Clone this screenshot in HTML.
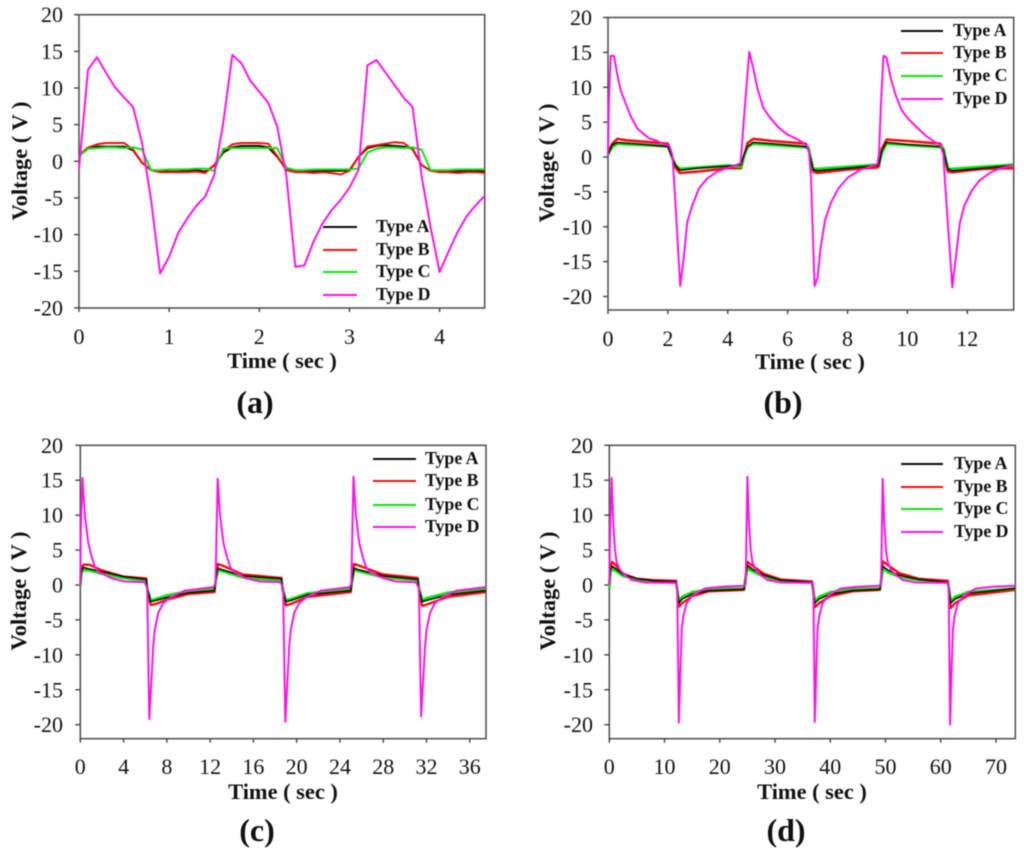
<!DOCTYPE html>
<html lang="en">
<head>
<meta charset="utf-8">
<title>Voltage versus time for four device types</title>
<style>
  html, body { margin: 0; padding: 0; background: #fff; }
  #figure { display: block; width: 1024px; height: 856px; filter: blur(0.5px); }
  text { font-family: "Liberation Serif", serif; fill: #111; }
</style>
</head>
<body>
<svg id="figure" xmlns="http://www.w3.org/2000/svg" width="1024" height="856" viewBox="0 0 1024 856"></svg>
<script>
// ---- shared labels and colours ----
const seriesNames = ["Type A", "Type B", "Type C", "Type D"];
const seriesColors = ["#0a0a0a", "#f01010", "#0ae60a", "#ff14e6"];
const voltageTicks = [-20, -15, -10, -5, 0, 5, 10, 15, 20];
const xAxisTitle = "Time ( sec )";
const yAxisTitle = "Voltage ( V )";

// ---- panel (a) ----
const aTicks = [0, 1, 2, 3, 4];
const aTime = [0,.1,.2,.3,.4,.5,.6,.7,.8,.9, 1,1.1,1.2,1.3,1.4,1.5,1.6,1.7,1.8,1.9, 2,2.1,2.2,2.3,2.4,2.5,2.6,2.7,2.8,2.9, 3,3.1,3.2,3.3,3.4,3.5,3.6,3.7,3.8,3.9, 4,4.1,4.2,4.3,4.4,4.5];
const aTypeA = [.8,1.8,2,2,2,2,1.5,-.2,-1.2,-1.3, -1.4,-1.4,-1.3,-1.2,-1.4,-.6,1.2,1.9,2.1,2.1, 2.1,1.9,.6,-1.1,-1.3,-1.4,-1.4,-1.3,-1.3,-1.3, -1.2,.6,1.8,2.1,2.2,2.1,2,1.7,-.5,-1.3, -1.3,-1.4,-1.4,-1.3,-1.3,-1.4];
const aTypeB = [.8,1.9,2.3,2.5,2.5,2.5,1.6,-.2,-1.2,-1.5, -1.5,-1.5,-1.5,-1.4,-1.6,-.5,1.4,2.3,2.5,2.5, 2.5,2.4,.7,-1.2,-1.5,-1.5,-1.6,-1.5,-1.6,-1.8, -1.3,.6,2,2.2,2.4,2.6,2.5,1.6,-.5,-1.3, -1.5,-1.5,-1.6,-1.5,-1.5,-1.6];
const aTypeC = [.7,1.7,1.8,1.9,1.9,1.8,1.9,1.6,-1.2,-1.2, -1.1,-1.1,-1.1,-1,-1,-1.3,1.7,1.8,1.8,1.8, 1.8,1.8,1.8,-.9,-1.2,-1.2,-1.1,-1.1,-1.1,-1.1, -1.1,-1,1.2,1.7,1.9,1.9,1.8,1.9,1.6,-1.2, -1.2,-1.2,-1.1,-1.1,-1.1,-1.1];
const aTypeD = [-1,12.5,14.2,12.1,10.1,8.7,7.4,2.5,-5.3,-15.3, -13,-9.8,-7.8,-6.1,-4.8,-1.9,5.2,14.5,13.4,11, 9.5,8,4.7,-2,-14.4,-14.2,-11,-8.5,-6.7,-5.3, -3.6,-1.2,13.1,13.8,12.1,10.4,8.7,7.4,-2,-9, -15.1,-12.3,-9.6,-7.5,-6,-4.7];

// ---- panel (b) ----
const bTicks = [0, 2, 4, 6, 8, 10, 12];
const bTime = [0,.14,.31,.6,1.2,2,2.15,2.25,2.4,3,4,4.45,4.55,4.66,4.85,5.5,6.6,6.7,6.85,7,8,9,9.05,9.15,9.3,10,11.1,11.2,11.35,11.5,12.5,13.55];
const bTypeA = [.3,1.7,2.1,2,1.8,1.5,-.2,-1.2,-1.9,-1.6,-1.3,-1.1,.4,1.5,2.1,1.9,1.5,1,-1.8,-2,-1.6,-1.2,-1,1,2.1,1.8,1.5,1,-1.7,-2,-1.6,-1.2];
const bTypeB = [.5,1.9,2.6,2.4,2.2,1.9,-.2,-1.5,-2.3,-2.1,-1.6,-1.6,.2,2,2.6,2.3,1.9,1.2,-2.1,-2.3,-1.8,-1.5,-1.3,1.2,2.5,2.3,1.9,1,-2.1,-2.2,-1.7,-1.6];
const bTypeC = [.4,1.4,1.9,1.8,1.7,1.5,-.1,-1.1,-1.7,-1.5,-1.2,-1.4,.2,1.4,1.9,1.7,1.4,1.3,-1.7,-1.7,-1.4,-1.1,-1,.6,1.9,1.7,1.4,1.3,-1.6,-1.7,-1.4,-1.1];
const bTimeD = [0,.03,.09,.2,.31, .42,.59,.76,.98,1.2, 1.37,1.65,1.87,2.04,2.15, 2.23,2.41,2.54,2.65,2.82, 3.04,3.32,3.65,4.1,4.43,
  4.55,4.72,4.88,4.99,5.19, 5.4,5.7,6,6.3,6.5, 6.65,6.72,6.78,6.9,7, 7.1,7.25,7.45,7.7,8, 8.4,8.8,9,9.05,9.12,
  9.2,9.3,9.45,9.6,9.8, 10,10.3,10.6,10.9,11.1, 11.2,11.28,11.5,11.63,11.75, 11.9,12.15,12.4,12.75,13.1, 13.55];
const bTypeD = [.3,8,14.5,14.5,11.8, 9.6,7.7,5.8,4.1,3.25, 2.7,2.3,1.8,1.7,.3, -5,-18.5,-14,-9.3,-6.9, -4.5,-3.05,-2.1,-1.4,-.9,
  6,15.1,12.2,9.85,7, 5.7,4.2,3.2,2.6,2.1, 1.6,.5,-3,-18.5,-17.3, -13,-9,-6.5,-4.5,-3, -1.9,-1.3,-1,.5,8,
  14.5,14.3,11.2,9,6.8, 5.6,4.3,3.1,2.2,1.7, .4,-5,-18.7,-14,-9.5, -7,-4.8,-3.4,-2.3,-1.6, -1.2];

// ---- panel (c) ----
const cTicks = [0, 4, 8, 12, 16, 20, 24, 28, 32, 36];
const cTime = [0,.1,.3,.8,2,4,6.1,6.2,6.5,7,8,10,12.4,12.5,12.7,13.1,15,18.6,18.7,19,19.5,21,25,25.1,25.3,25.7,28,31.2,31.3,31.6,32,34,37.5];
const cTypeA = [0,2,2.5,2.3,1.9,1.2,.8,-.6,-2.4,-2.2,-1.8,-1.1,-.8,.4,2.4,2.2,1.3,.9,-.6,-2.4,-2.2,-1.4,-.8,.4,2.4,2.2,1.3,.8,-.5,-2.4,-2.2,-1.4,-.8];
const cTypeB = [0,2.4,2.9,2.9,2.1,1.2,.95,-.8,-2.85,-2.7,-2.1,-1.3,-1,.4,3,2.8,1.5,1,-.7,-2.9,-2.7,-1.7,-1,.4,3,2.8,1.5,1,-.7,-3,-2.8,-1.7,-1];
const cTypeC = [-.2,1.8,2.1,2.1,1.6,1,.6,-.5,-2.2,-2,-1.5,-.9,-.6,.3,2.1,2,1.1,.6,-.5,-2.2,-2,-1.2,-.6,.3,2.1,2,1.1,.7,-.4,-2.2,-1.9,-1.1,-.6];
const cTimeD = [0,.05,.2,.43,.74,1.05,1.36,1.67,2.9,4.1,5.95,
  6.18,6.38,6.58,6.74,6.89,7.2,7.66,8.4,9.65,12.3,
  12.5,12.7,12.93,13.24,13.55,13.86,14.17,15.4,16.6,18.5,
  18.75,18.95,19.15,19.31,19.46,19.77,20.23,20.95,22.25,24.9,
  25.05,25.25,25.48,25.79,26.1,26.41,26.72,27.95,29.15,31,
  31.3,31.5,31.7,31.86,32.01,32.32,32.78,33.5,34.8,37.5];
const cTypeD = [0,8,15.3,9.8,6,4.05,2.6,1.9,.95,.5,.4,
  -.4,-19.2,-13.6,-8.8,-6.4,-4,-2.6,-1.7,-.8,-.3,
  .2,15.2,9.8,6,4.05,2.6,1.9,.9,.5,.4,
  -.4,-19.6,-13.6,-8.8,-6.4,-4,-2.6,-1.7,-.8,-.3,
  .2,15.5,9.9,6,4.05,2.6,1.9,1,.5,.4,
  -.4,-18.8,-13.4,-8.8,-6.4,-4,-2.6,-1.7,-.8,-.3];

// ---- panel (d) ----
const dTicks = [0, 10, 20, 30, 40, 50, 60, 70];
const dTime = [0,.2,.5,1.2,2.5,5,8,12.1,12.3,12.6,13.2,15,18,24.4,24.6,25,26,28,31,36.7,36.9,37.2,38,40,44,49,49.2,49.5,50.5,52.5,56,61.3,61.5,61.8,62.6,65,73.5];
const dTypeA = [0,2.2,2.7,2.3,1.5,.9,.6,.45,-.6,-2.6,-2,-1.3,-.8,-.6,.6,2.8,2.2,1.4,.7,.4,-.6,-2.6,-2,-1.3,-.8,-.6,.6,2.7,2.1,1.4,.8,.4,-.6,-2.6,-2,-1.2,-.5];
const dTypeB = [0,2.6,3.3,2.8,1.6,.9,.7,.6,-.7,-3.1,-2.6,-1.6,-.9,-.7,.7,3.3,2.7,1.6,.8,.5,-.8,-3.2,-2.6,-1.6,-.9,-.7,.7,3.4,2.8,1.7,.9,.6,-.8,-3.3,-2.6,-1.5,-.7];
const dTypeC = [-.5,1.8,2.3,2,1.3,.8,.5,.35,-.5,-2.4,-1.7,-1.05,-.6,-.5,.6,2.4,1.9,1.2,.6,.3,-.5,-2.4,-1.7,-1.05,-.6,-.5,.5,2.4,1.8,1.2,.7,.3,-.5,-2.4,-1.7,-1,-.5];
const dTimeD = [0,.15,.43,.73,1.03,1.33,1.93,2.83,4.03,6.53,12.1,
  12.3,12.6,12.85,13.1,13.4,14,15.2,17.3,20.3,24.4,
  24.7,25,25.3,25.6,25.9,26.5,27.4,28.6,31.1,36.8,
  36.95,37.2,37.45,37.7,38,38.6,39.8,41.9,44.9,49,
  49.2,49.5,49.8,50.1,50.4,51,51.9,53.1,55.6,61.3,
  61.45,61.7,61.95,62.2,62.5,63.1,64.3,66.4,69.4,73.5];
const dTypeD = [0,8,15.3,8.8,5,3.3,2.15,1.43,.72,.35,.3,
  -.4,-19.7,-12.6,-6.4,-4.5,-2.6,-1.4,-.5,-.25,-.1,
  .2,15.5,8.8,5,3.3,2.15,1.43,.72,.35,.3,
  -.4,-19.6,-12.6,-6.4,-4.5,-2.6,-1.4,-.5,-.25,-.1,
  .2,15.2,8.8,5,3.3,2.15,1.43,.72,.35,.3,
  -.4,-20,-12.6,-6.4,-4.5,-2.6,-1.4,-.5,-.25,-.1];

// ---- panel layout ----
const panels = [
  { id: "a", caption: "(a)", left: 79, right: 484.7, xMax: 4.5, y20: 14.7, y0: 161.3, bottom: 308, yMin: -20,
    ticks: aTicks, times: [aTime, aTime, aTime, aTime], values: [aTypeA, aTypeB, aTypeC, aTypeD],
    order: [0, 1, 2, 3], widths: [2, 2, 2, 2],
    yLabelEnd: 63, xLabelBase: 344, xTitleX: 282, xTitleBase: 368, yTitleX: 27, yTitleY: 161,
    capX: 255, capBase: 413, legLine: [323, 357], legText: 376, legY: [227, 250, 272, 295] },
  { id: "b", caption: "(b)", left: 608, right: 1013.7, xMax: 13.55, y20: 17.5, y0: 157, bottom: 310, yMin: -22,
    ticks: bTicks, times: [bTime, bTime, bTime, bTimeD], values: [bTypeA, bTypeB, bTypeC, bTypeD],
    order: [1, 2, 0, 3], widths: [1.5, 2.6, 2.8, 2],
    yLabelEnd: 592, xLabelBase: 346, xTitleX: 810, xTitleBase: 369, yTitleX: 554, yTitleY: 163,
    capX: 783, capBase: 413, legLine: [901, 943], legText: 953, legY: [31, 53, 76, 99] },
  { id: "c", caption: "(c)", left: 80.3, right: 486, xMax: 37.5, y20: 445.3, y0: 585, bottom: 738.7, yMin: -22,
    ticks: cTicks, times: [cTime, cTime, cTime, cTimeD], values: [cTypeA, cTypeB, cTypeC, cTypeD],
    order: [1, 2, 0, 3], widths: [1.5, 2.4, 2.8, 2],
    yLabelEnd: 63, xLabelBase: 774, xTitleX: 283, xTitleBase: 799, yTitleX: 26, yTitleY: 591,
    capX: 257, capBase: 841, legLine: [373, 416], legText: 425, legY: [459, 481, 505, 527] },
  { id: "d", caption: "(d)", left: 609.3, right: 1015.3, xMax: 73.5, y20: 445.3, y0: 585, bottom: 738.7, yMin: -22,
    ticks: dTicks, times: [dTime, dTime, dTime, dTimeD], values: [dTypeA, dTypeB, dTypeC, dTypeD],
    order: [1, 2, 0, 3], widths: [1.5, 2.4, 2.8, 2],
    yLabelEnd: 593, xLabelBase: 774, xTitleX: 812, xTitleBase: 799, yTitleX: 555, yTitleY: 591,
    capX: 786, capBase: 841, legLine: [901, 943], legText: 954, legY: [464, 487, 509, 532] }
];

// ---- drawing ----
const NS = "http://www.w3.org/2000/svg";
const figure = document.getElementById("figure");

function make(tag, parent, attrs, content) {
  const node = document.createElementNS(NS, tag);
  for (const key in attrs) node.setAttribute(key, attrs[key]);
  if (content !== undefined) node.textContent = content;
  parent.appendChild(node);
  return node;
}

function drawPanel(p) {
  const xScale = v => p.left + (v / p.xMax) * (p.right - p.left);
  const yScale = v => p.y0 - (v / 20) * (p.y0 - p.y20);

  const group = make("g", figure, {});
  
  

  const frame = make("rect", group, { x: p.left, y: p.y20, width: p.right - p.left, height: p.bottom - p.y20, fill: "#fff", stroke: "#555", "stroke-width": 1.6 });
  
  

  voltageTicks.forEach(v => {
    const y = yScale(v);
    const tick = make("line", group, { x1: p.left - 5, x2: p.left, y1: y, y2: y, stroke: "#444", "stroke-width": 1.4 });
    
    
    const label = make("text", group, { x: p.yLabelEnd, y: y + 7.5, "text-anchor": "end", "font-size": 22 }, String(v));
    
    
  });

  p.ticks.forEach(v => {
    const x = xScale(v);
    const tick = make("line", group, { x1: x, x2: x, y1: p.bottom, y2: p.bottom + 4, stroke: "#444", "stroke-width": 1.4 });
    
    
    const label = make("text", group, { x: x, y: p.xLabelBase, "text-anchor": "middle", "font-size": 22 }, String(v));
    
    
  });

  p.order.forEach(i => {
    const name = seriesNames[i];
    const pts = p.times[i].map((t, j) => xScale(t).toFixed(1) + "," + yScale(p.values[i][j]).toFixed(1)).join(" ");
    const line = make("polyline", group, { points: pts, fill: "none", stroke: seriesColors[i], "stroke-width": p.widths[i], "stroke-linejoin": "round" });
    
    
  });

  seriesNames.forEach((name, i) => {
    const swatch = make("line", group, { x1: p.legLine[0], x2: p.legLine[1], y1: p.legY[i], y2: p.legY[i], stroke: seriesColors[i], "stroke-width": 2 });
    
    
    const entry = make("text", group, { x: p.legText, y: p.legY[i] + 5, "font-size": 17.8, "font-weight": "bold" }, name);
    
    
  });

  const xTitle = make("text", group, { x: p.xTitleX, y: p.xTitleBase, "text-anchor": "middle", "font-size": 22.4, "font-weight": "bold" }, xAxisTitle);
  
  

  const yTitle = make("text", group, { transform: "translate(" + p.yTitleX + "," + p.yTitleY + ") rotate(-90)", "text-anchor": "middle", "font-size": 22.5, "font-weight": "bold" }, yAxisTitle);
  
  

  const cap = make("text", group, { x: p.capX, y: p.capBase, "text-anchor": "middle", "font-size": 32, "font-weight": "bold" }, p.caption);
  
  
}

panels.forEach(drawPanel);
</script>
</body>
</html>
